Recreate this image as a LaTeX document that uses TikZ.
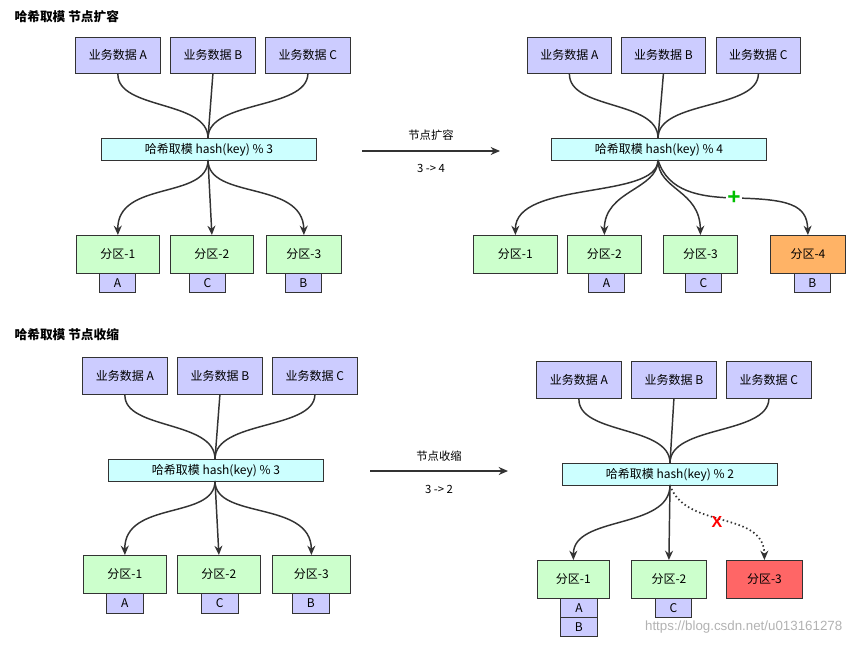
\documentclass[tikz,border=0pt]{standalone}
\usepackage{fontspec}
\setmainfont{Liberation Sans}
\newfontfamily\cjk{Noto Sans CJK SC}
\usetikzlibrary{arrows.meta}
\definecolor{biz}{HTML}{CCCCFF}
\definecolor{hsh}{HTML}{CCFFFF}
\definecolor{prt}{HTML}{CCFFCC}
\definecolor{org}{HTML}{FFB366}
\definecolor{rd}{HTML}{FF6666}
\begin{document}
\begin{tikzpicture}[x=0.75pt,y=-0.75pt,
 font=\cjk\fontsize{9}{11}\selectfont,
 bx/.style={draw=black!80,line width=0.6pt,inner sep=0pt,anchor=north west},
 b/.style={bx,fill=biz},
 h/.style={bx,fill=hsh},
 p/.style={bx,fill=prt},
 cn/.style={draw=black!80,line width=1.1pt},
 ar/.style={cn,-{Stealth[length=7pt,width=6pt]}},
 ttl/.style={font=\cjk\bfseries\fontsize{9.5}{11}\selectfont,anchor=west},
 lbl/.style={font=\cjk\fontsize{8.5}{10}\selectfont}]
\useasboundingbox (0,0) rectangle (855,645);
% ===== top left
\node[ttl] (t1) at (10,17) {哈希取模 节点扩容};
\foreach \n/\x/\l in {a/75/A,b/170/B,c/265/C}{
 \node[b,minimum width=63.75pt,minimum height=27pt] (tl\n) at (\x,37) {};
 \node at (tl\n.center) {业务数据 \l};}
\node[h,minimum width=161.25pt,minimum height=16.5pt] (tlh) at (101,138) {};
\node at (tlh.center) {哈希取模 hash(key) \% 3};
\foreach \n/\x/\w/\t/\s/\sx in {1/76/83/1/A/99,2/170/83/2/C/189,3/266/75/3/B/285}{
 \node[p,minimum width=\w*0.75pt,minimum height=28.5pt] (tlp\n) at (\x,235) {};
 \node at (tlp\n.center) {分区-\t};
 \node[b,minimum width=27pt,minimum height=14.25pt] (tls\n) at (\sx,273) {};
 \node at (tls\n.center) {\s};}
\draw[cn] (tla.south) .. controls (117,110) and (208,100) .. (208,138);
\draw[cn] (tlb.south) -- (208,138);
\draw[cn] (tlc.south) .. controls (307,110) and (208,100) .. (208,138);
\draw[ar] (208,160) .. controls (208,200) and (117,180) .. (tlp1.north);
\draw[ar] (208,160) -- (tlp2.north);
\draw[ar] (208,160) .. controls (208,200) and (303,180) .. (tlp3.north);
% middle arrow 1
\coordinate (m1a) at (362,151); \coordinate (m1b) at (500,151);
\draw[ar] (m1a) -- (m1b);
\node[lbl] (m1t) at (431,135) {节点扩容};
\node[lbl] (m1u) at (431,168) {3 -> 4};
% ===== top right
\foreach \n/\x/\l in {a/527/A,b/621/B,c/716/C}{
 \node[b,minimum width=63pt,minimum height=27pt] (tr\n) at (\x,37) {};
 \node at (tr\n.center) {业务数据 \l};}
\node[h,minimum width=161.25pt,minimum height=16.5pt] (trh) at (551,138) {};
\node at (trh.center) {哈希取模 hash(key) \% 4};
\foreach \n/\x/\w in {1/473/84,2/567/74,3/663/74}{
 \node[p,minimum width=\w*0.75pt,minimum height=28.5pt] (trp\n) at (\x,235) {};
 \node at (trp\n.center) {分区-\n};}
\node[bx,fill=org,minimum width=56.25pt,minimum height=28.5pt] (trp4) at (770,235) {};
\node at (trp4.center) {分区-4};
\foreach \n/\x/\s/\p in {2/588/A/2,3/685/C/3,4/794/B/4}{
 \node[b,minimum width=27pt,minimum height=14.25pt] (trs\n) at (\x,273) {};
 \node at (trs\n.center) {\s};}
\draw[cn] (tra.south) .. controls (569,110) and (658,100) .. (658,138);
\draw[cn] (trb.south) -- (658,138);
\draw[cn] (trc.south) .. controls (758,110) and (658,100) .. (658,138);
\draw[ar] (658,160) .. controls (658,200) and (515,180) .. (trp1.north);
\draw[ar] (658,160) .. controls (658,190) and (604,190) .. (trp2.north);
\draw[ar] (658,160) .. controls (658,190) and (700,190) .. (trp3.north);
\coordinate (pc) at (734,198);
\draw[ar] (658,160) .. controls (668,192) and (700,197) .. (pc) .. controls (790,199) and (807,205) .. (trp4.north);
\node[fill=white,inner sep=1pt,text=green!75!black,font=\bfseries\fontsize{17}{17}\selectfont] (plus) at (pc) {+};
% ===== bottom left
\node[ttl] (t2) at (10,335) {哈希取模 节点收缩};
\foreach \n/\x/\l in {a/82/A,b/177/B,c/272/C}{
 \node[b,minimum width=63.75pt,minimum height=27.75pt] (bl\n) at (\x,357) {};
 \node at (bl\n.center) {业务数据 \l};}
\node[h,minimum width=161.25pt,minimum height=16.5pt] (blh) at (108,459) {};
\node at (blh.center) {哈希取模 hash(key) \% 3};
\foreach \n/\x/\w/\s/\sx in {1/83/83/A/106,2/177/83/C/201,3/272/78/B/292}{
 \node[p,minimum width=\w*0.75pt,minimum height=28.5pt] (blp\n) at (\x,555) {};
 \node at (blp\n.center) {分区-\n};
 \node[b,minimum width=27.5pt,minimum height=15pt] (bls\n) at (\sx,593) {};
 \node at (bls\n.center) {\s};}
\draw[cn] (bla.south) .. controls (124,430) and (215,420) .. (215,459);
\draw[cn] (blb.south) -- (215,459);
\draw[cn] (blc.south) .. controls (314,430) and (215,420) .. (215,459);
\draw[ar] (215,481) .. controls (215,520) and (124,500) .. (blp1.north);
\draw[ar] (215,481) -- (blp2.north);
\draw[ar] (215,481) .. controls (215,520) and (311,500) .. (blp3.north);
% middle arrow 2
\coordinate (m2a) at (370,471); \coordinate (m2b) at (508,471);
\draw[ar] (m2a) -- (m2b);
\node[lbl] (m2t) at (439,456) {节点收缩};
\node[lbl] (m2u) at (439,489) {3 -> 2};
% ===== bottom right
\foreach \n/\x/\l in {a/536/A,b/631/B,c/726/C}{
 \node[b,minimum width=63.75pt,minimum height=27.75pt] (br\n) at (\x,361) {};
 \node at (br\n.center) {业务数据 \l};}
\node[h,minimum width=161.25pt,minimum height=16.5pt] (brh) at (562,463) {};
\node at (brh.center) {哈希取模 hash(key) \% 2};
\node[p,minimum width=54pt,minimum height=28.5pt] (brp1) at (537,560) {};
\node at (brp1.center) {分区-1};
\node[p,minimum width=56.25pt,minimum height=28.5pt] (brp2) at (631,560) {};
\node at (brp2.center) {分区-2};
\node[bx,fill=rd,minimum width=57pt,minimum height=28.5pt] (brp3) at (726,560) {};
\node at (brp3.center) {分区-3};
\node[b,minimum width=27.75pt,minimum height=14.25pt] (brsa) at (560,598) {};
\node at (brsa.center) {A};
\node[b,minimum width=27.75pt,minimum height=14.25pt] (brsb) at (560,617) {};
\node at (brsb.center) {B};
\node[b,minimum width=27pt,minimum height=14.25pt] (brsc) at (655,598) {};
\node at (brsc.center) {C};
\draw[cn] (bra.south) .. controls (578,435) and (670,425) .. (670,463);
\draw[cn] (brb.south) -- (670,463);
\draw[cn] (brc.south) .. controls (768,435) and (670,425) .. (670,463);
\draw[ar] (670,485) .. controls (670,530) and (573,515) .. (brp1.north);
\draw[ar] (670,485) -- (brp2.north);
\draw[cn,dotted,line width=1.3pt,-{Stealth[length=7pt,width=6pt]}] (670,485) .. controls (685,530) and (764,510) .. (brp3.north);
\node[text=red,font=\bfseries\fontsize{12}{12}\selectfont] (x) at (717,522) {X};
\node[text=black!30,font=\fontsize{10}{12}\selectfont,anchor=east] (wm) at (847,627) {https://blog.csdn.net/u013161278};
\end{tikzpicture}
\end{document}
